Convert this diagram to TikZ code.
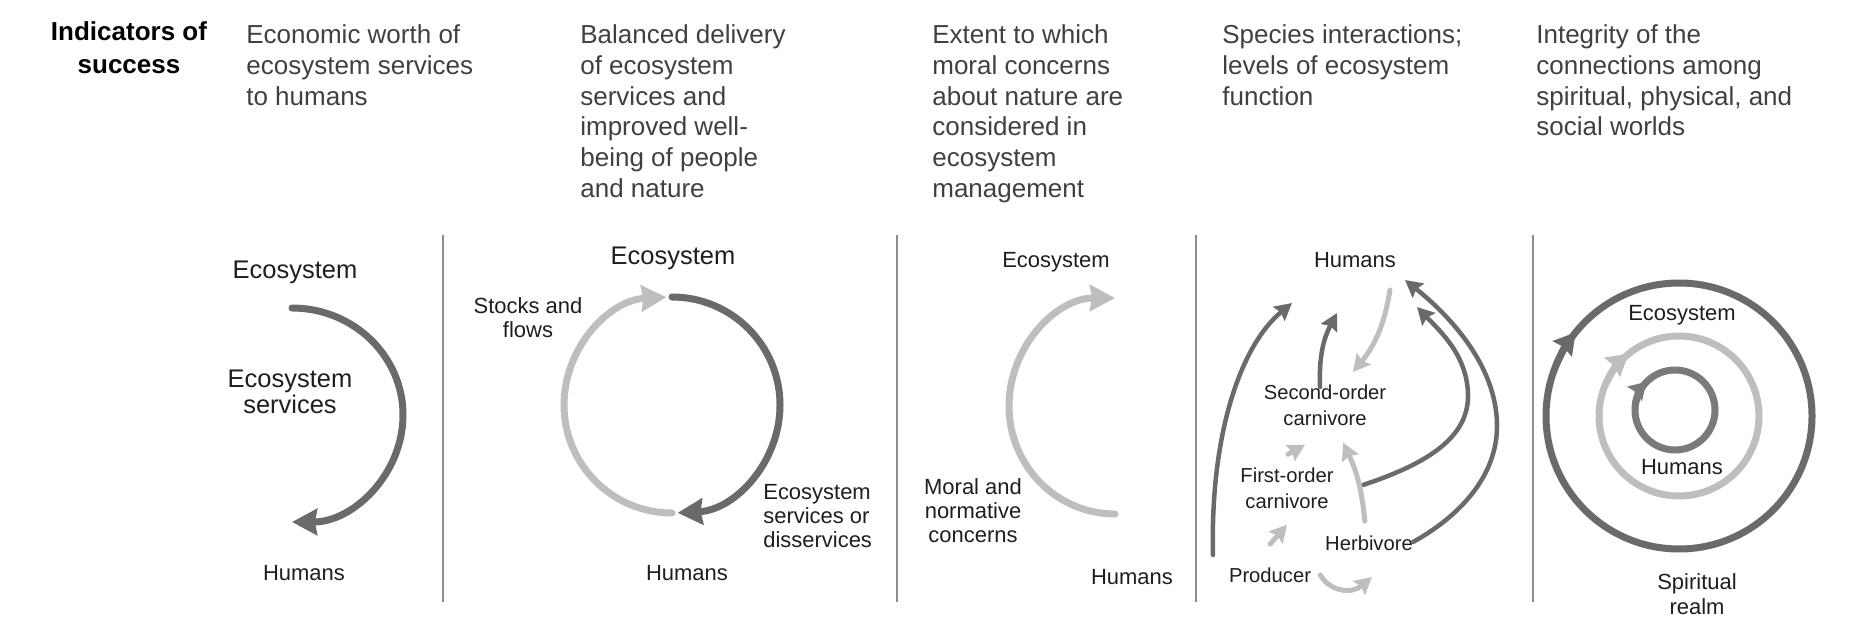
\documentclass[tikz,border=0pt]{standalone}
\usepackage{fontspec}
\setmainfont{Liberation Sans}
\usetikzlibrary{arrows.meta,calc}
\definecolor{arcdark}{HTML}{6A6A6A}
\definecolor{arclight}{HTML}{BEBEBE}
\definecolor{ringmid}{HTML}{7A7A7A}
\definecolor{hdrgray}{HTML}{404040}
\definecolor{lblgray}{HTML}{1E1E1E}
\definecolor{sepgray}{HTML}{8C8C8C}

\begin{document}
\begin{tikzpicture}[x=0.02cm,y=0.02cm,
	hdr/.style={anchor=north west,align=left,inner sep=0pt,text=hdrgray,font=\fontsize{14.8}{17.6}\selectfont},
	biglbl/.style={align=center,inner sep=0pt,text=lblgray,font=\fontsize{14.5}{13.1}\selectfont},
	lbl/.style={align=center,inner sep=0pt,text=lblgray,font=\fontsize{12.5}{13.6}\selectfont},
	weblbl/.style={align=center,inner sep=0pt,text=lblgray,font=\fontsize{11.5}{14.7}\selectfont},
	divider/.style={draw=sepgray,line width=0.035cm},
	bigdark/.style={draw=arcdark,line width=0.14cm,line cap=round,-{Stealth[length=0.5cm,width=0.52cm,inset=0.04cm]}},
	biglight/.style={bigdark,draw=arclight},
	darkweb/.style={draw=arcdark,line width=0.09cm,line cap=round,-{Stealth[length=0.34cm,width=0.36cm,inset=0.05cm]}},
	lightweb/.style={darkweb,draw=arclight,line width=0.1cm},
	ring/.style={line width=0.14cm},
	ringtip/.style={line width=0.14cm,-{Stealth[length=0.42cm,width=0.48cm,inset=0.04cm]}}]
	\useasboundingbox (0,0) rectangle (1866,636);

	% headers
	\node[hdr,anchor=north,align=center,text=black,font=\bfseries\fontsize{14.8}{18.7}\selectfont] (ind) at (129,615) {Indicators of\\success};
	\node[hdr] (h1) at (246,612) {Economic worth of\\ecosystem services\\to humans};
	\node[hdr] (h2) at (580,612) {Balanced delivery\\of ecosystem\\services and\\improved well-\\being of people\\and nature};
	\node[hdr] (h3) at (932,612) {Extent to which\\moral concerns\\about nature are\\considered in\\ecosystem\\management};
	\node[hdr] (h4) at (1222,612) {Species interactions;\\levels of ecosystem\\function};
	\node[hdr] (h5) at (1536,612) {Integrity of the\\connections among\\spiritual, physical, and\\social worlds};

	\foreach \x in {443,897,1196,1533}
		\draw[divider] (\x,401) -- (\x,34);

	% economic worth
	\coordinate (c1) at (292,221);
	\node[biglbl] (eco1) at (295,364) {Ecosystem};
	\node[biglbl] (serv1) at (290,244) {Ecosystem\\services};
	\node[lbl] (hum1) at (304,63) {Humans};
	\draw[bigdark] (c1) ++(0,107) arc[start angle=90, end angle=-90, x radius=111, y radius=107];

	% balanced delivery
	\coordinate (c2) at (672,231);
	\node[biglbl] (eco2) at (673,378) {Ecosystem};
	\node[lbl] (stock) at (528,318) {Stocks and\\flows};
	\node[lbl,anchor=west,align=left] (disserv) at (763,120) {Ecosystem\\services or\\disservices};
	\node[lbl] (hum2) at (687,63) {Humans};
	\draw[biglight] (c2) ++(270:108) arc[start angle=270, end angle=93, radius=108];
	\draw[bigdark] (c2) ++(90:108) arc[start angle=90, end angle=-87, radius=108];

	% moral concerns
	\coordinate (c3) at (1115,230);
	\node[lbl] (eco3) at (1056,374) {Ecosystem};
	\node[lbl] (moral) at (973,125) {Moral and\\normative\\concerns};
	\node[lbl] (hum3) at (1132,59) {Humans};
	\draw[biglight] (c3) ++(0,-108) arc[start angle=270, end angle=90, x radius=106, y radius=108];

	% food web
	\node[lbl] (hum4) at (1355,376) {Humans};
	\node[weblbl] (second) at (1325,231) {Second-order\\carnivore};
	\node[weblbl] (first) at (1287,148) {First-order\\carnivore};
	\node[weblbl] (herb) at (1369,93) {Herbivore};
	\node[weblbl] (prod) at (1270,61) {Producer};
	\coordinate (prod-out) at (1213,81);
	\coordinate (prod-in) at (1292,333);
	\coordinate (second-out) at (1320,249);
	\coordinate (second-in) at (1337,323);
	\coordinate (first-out) at (1363,151);
	\coordinate (first-in) at (1417,329);
	\coordinate (herb-out) at (1413,94);
	\coordinate (herb-in) at (1405,356);
	\coordinate (hum-out) at (1390,346);
	\coordinate (hum-in) at (1353,264);
	\draw[darkweb] (prod-out) .. controls (1210,200) and (1240,290) .. (prod-in);
	\draw[darkweb] (second-out) to[bend left=15] (second-in);
	\draw[darkweb] (first-out) .. controls (1420,170) and (1468,195) .. (1468,240)
		.. controls (1468,280) and (1440,305) .. (first-in);
	\draw[darkweb] (herb-out) .. controls (1460,120) and (1497,160) .. (1497,210)
		.. controls (1497,270) and (1450,320) .. (herb-in);
	\draw[lightweb] (hum-out) to[bend left=15] (hum-in);
	\draw[lightweb] ($(herb.north west)+(40,14)$) to[bend right=10] ($(second.south)+(18,-17)$);
	\draw[lightweb] ($(first.north)+(1,13)$) -- ($(second.south)+(-20,-19)$);
	\draw[lightweb] ($(prod.north)+(0,23)$) -- ($(first.south)+(0,-16)$);
	\draw[lightweb] ($(prod.east)+(9,0)$) .. controls (1330,44) and (1352,42) .. (1372,59);

	% connections among worlds
	\coordinate (c5) at (1679,220);
	\coordinate (c5in) at (1675,226);
	\draw[ring,draw=arcdark] (c5) circle[radius=133];
	\draw[ring,draw=arclight] (c5) circle[radius=80];
	\draw[ring,draw=ringmid] (c5in) circle[radius=40];
	\draw[ringtip,draw=arcdark] (c5) ++(158:133) arc[start angle=158, end angle=141, radius=133];
	\draw[ringtip,draw=arclight] (c5) ++(155:80) arc[start angle=155, end angle=129, radius=80];
	\draw[ringtip,draw=ringmid,-{Stealth[length=0.34cm,width=0.4cm,inset=0.04cm]}] (c5in) ++(170:40) arc[start angle=170, end angle=135, radius=40];
	\node[lbl] (eco5) at (1682,321) {Ecosystem};
	\node[lbl] (hum5) at (1682,169) {Humans};
	\node[lbl,font=\fontsize{12.5}{14.2}\selectfont] (spirit) at (1697,42) {Spiritual\\realm};
\end{tikzpicture}
\end{document}
